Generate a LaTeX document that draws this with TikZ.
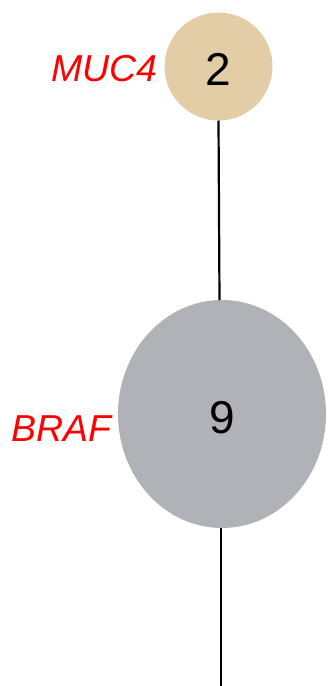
\documentclass[tikz,border=0pt]{standalone}
\usepackage{fontspec}
\setmainfont{Liberation Sans}
\definecolor{beige}{HTML}{E3CDA6}
\definecolor{greyn}{HTML}{B1B1B8}
\definecolor{lblred}{HTML}{FF0000}
\begin{document}
\begin{tikzpicture}[x=1pt,y=-1pt,
  gene/.style={text=lblred,font=\fontsize{37.5}{40}\selectfont\itshape,inner sep=0pt,anchor=base east},
  num/.style={font=\fontsize{46}{50}\selectfont,inner sep=0pt,anchor=base},
  edge/.style={line width=2.2pt,black}]
\useasboundingbox (0,0) rectangle (333,686);
\fill[beige] (218.5,66.5) circle (54);
\fill[greyn] (222,414) ellipse (104 and 114);
\coordinate (c1b) at (218.5,120.5);
\coordinate (c2t) at (219.5,300);
\coordinate (c2b) at (221,528);
\coordinate (end) at (221,686);
\draw[edge] (c1b) -- (c2t);
\draw[edge] (c2b) -- (end);
\node[num] (n2) at (218.5,85) {2};
\node[num] (n9) at (222.5,433) {9};
\node[gene] (muc) at (157.5,81) {MUC4};
\node[gene] (braf) at (112,441) {BRAF};
\end{tikzpicture}
\end{document}
